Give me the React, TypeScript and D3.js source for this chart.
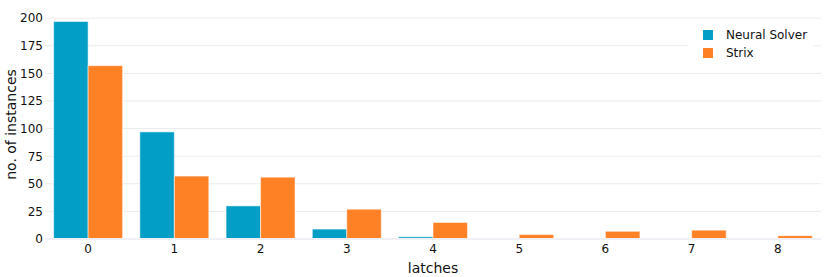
import React, { useEffect, useRef } from 'react';
import * as d3 from 'd3';

const latches = ['0', '1', '2', '3', '4', '5', '6', '7', '8'];
const neuralSolver = [197, 97, 30, 9, 2, 0, 0, 0, 0];
const strix = [157, 57, 56, 27, 15, 4, 7, 8, 3];
const yTicks = [0, 25, 50, 75, 100, 125, 150, 175, 200];
const seriesNames = ['Neural Solver', 'Strix'];
const colors = ['#029ec5', '#ff8126'];

function App() {
  const svgRef = useRef<SVGSVGElement | null>(null);

  useEffect(() => {
    const width = 830;
    const height = 277;
    const margin = { top: 10, right: 9, bottom: 38, left: 45 };
    const font = 'Verdana, "DejaVu Sans", sans-serif';

    const svg = d3.select(svgRef.current)
      .attr('width', width)
      .attr('height', height);
    svg.selectAll('*').remove();

    const x0 = d3.scaleBand()
      .domain(latches)
      .range([margin.left, width - margin.right])
      .paddingInner(0.2)
      .paddingOuter(0.1);

    const x1 = d3.scaleBand()
      .domain(seriesNames)
      .range([0, x0.bandwidth()]);

    const y = d3.scaleLinear()
      .domain([0, 207.4])
      .range([height - margin.bottom, margin.top]);

    // gridlines
    svg.append('g')
      .selectAll('line')
      .data(yTicks.slice(1))
      .enter()
      .append('line')
      .attr('x1', margin.left)
      .attr('x2', width - margin.right)
      .attr('y1', d => y(d))
      .attr('y2', d => y(d))
      .attr('stroke', '#ebebeb')
      .attr('stroke-width', 1);

    // y tick labels
    svg.append('g')
      .selectAll('text')
      .data(yTicks)
      .enter()
      .append('text')
      .attr('x', margin.left - 2)
      .attr('y', d => y(d))
      .attr('dy', '0.36em')
      .attr('text-anchor', 'end')
      .style('font-family', font)
      .style('font-size', '12px')
      .attr('fill', '#111')
      .text(d => d);

    // bars
    const groups = svg.append('g')
      .selectAll('g')
      .data(latches.map((l, i) => ({ l, vals: [neuralSolver[i], strix[i]] })))
      .enter()
      .append('g')
      .attr('transform', d => `translate(${x0(d.l)},0)`);

    groups.selectAll('rect')
      .data(d => d.vals.map((v, j) => ({ v, name: seriesNames[j], j })))
      .enter()
      .append('rect')
      .attr('x', d => x1(d.name)!)
      .attr('width', x1.bandwidth())
      .attr('y', d => y(d.v))
      .attr('height', d => y(0) - y(d.v))
      .attr('fill', d => colors[d.j])
      .attr('stroke', 'rgba(255,255,255,0.55)')
      .attr('stroke-width', 1);

    // zero line
    svg.append('line')
      .attr('x1', margin.left)
      .attr('x2', width - margin.right)
      .attr('y1', y(0))
      .attr('y2', y(0))
      .attr('stroke', '#f0f0f6')
      .attr('stroke-width', 2);

    // x tick labels
    svg.append('g')
      .selectAll('text')
      .data(latches)
      .enter()
      .append('text')
      .attr('x', d => x0(d)! + x0.bandwidth() / 2)
      .attr('y', y(0) + 14)
      .attr('text-anchor', 'middle')
      .style('font-family', font)
      .style('font-size', '12px')
      .attr('fill', '#111')
      .text(d => d);

    // axis titles
    svg.append('text')
      .attr('x', (margin.left + width - margin.right) / 2)
      .attr('y', 273)
      .attr('text-anchor', 'middle')
      .style('font-family', font)
      .style('font-size', '14px')
      .attr('fill', '#111')
      .text('latches');

    svg.append('text')
      .attr('transform', `translate(16,${(margin.top + height - margin.bottom) / 2}) rotate(-90)`)
      .attr('text-anchor', 'middle')
      .style('font-family', font)
      .style('font-size', '14px')
      .attr('fill', '#111')
      .text('no. of instances');

    // legend
    const legend = svg.append('g').attr('transform', 'translate(688,21)');
    legend.append('rect')
      .attr('width', 125)
      .attr('height', 42)
      .attr('fill', '#fff');
    seriesNames.forEach((name, i) => {
      legend.append('rect')
        .attr('x', 15)
        .attr('y', 9 + i * 18)
        .attr('width', 10)
        .attr('height', 10)
        .attr('fill', colors[i]);
      legend.append('text')
        .attr('x', 38)
        .attr('y', 14 + i * 18)
        .attr('dy', '0.36em')
        .style('font-family', font)
        .style('font-size', '12px')
        .attr('fill', '#111')
        .text(name);
    });
  }, []);

  return <svg ref={svgRef} style={{ position: 'absolute', left: 0, top: 0 }}></svg>;
}

export default App;
